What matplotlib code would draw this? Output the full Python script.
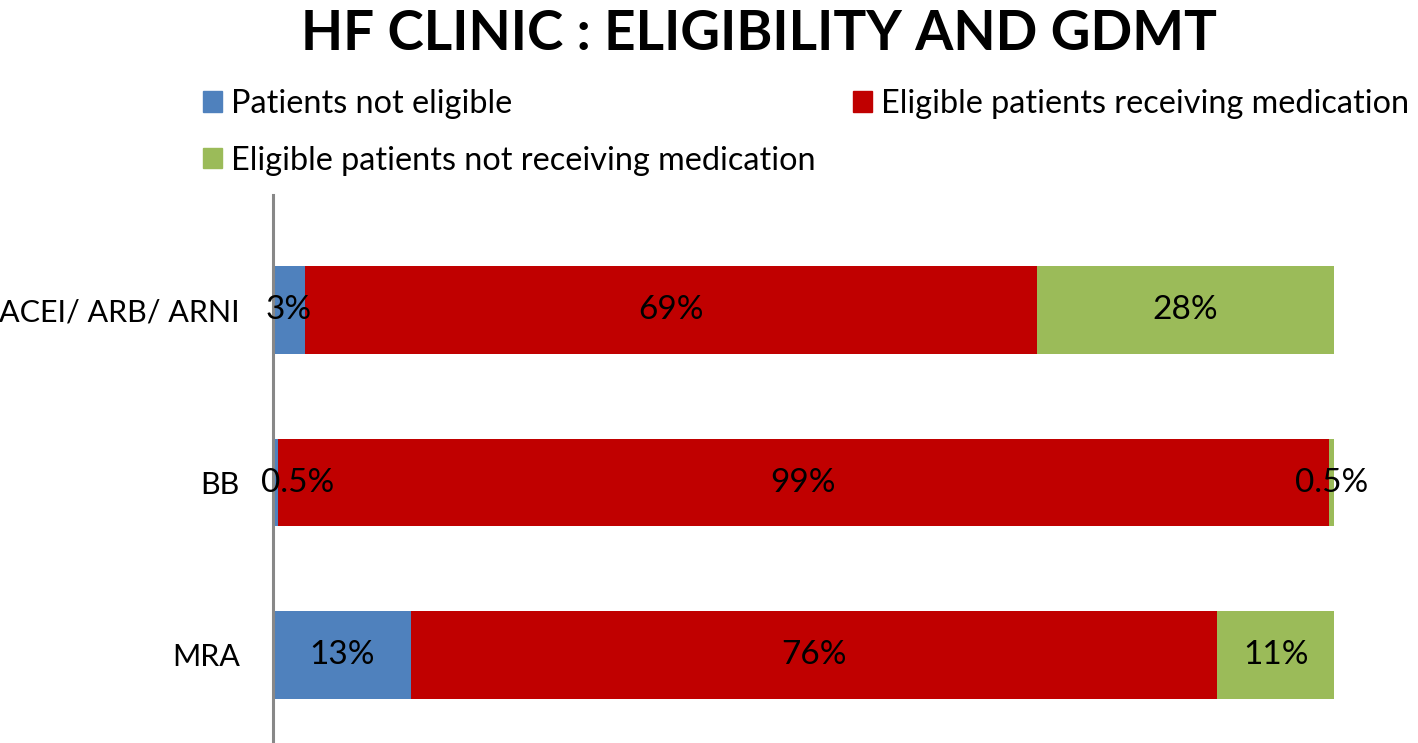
import numpy as np
import matplotlib.pyplot as plt
from matplotlib.patches import Patch

plt.rcParams['font.family'] = ['Lato', 'DejaVu Sans']

categories = ['ACEI/ ARB/ ARNI', 'BB', 'MRA']
not_eligible = [3, 0.5, 13]
receiving = [69, 99, 76]
not_receiving = [28, 0.5, 11]
labels_not_eligible = ['3%', '0.5%', '13%']
labels_receiving = ['69%', '99%', '76%']
labels_not_receiving = ['28%', '0.5%', '11%']

series = [
    ('Patients not eligible', not_eligible, labels_not_eligible, '#4F81BD'),
    ('Eligible patients receiving medication', receiving, labels_receiving, '#C00000'),
    ('Eligible patients not receiving medication', not_receiving, labels_not_receiving, '#9BBB59'),
]

fig = plt.figure(figsize=(14.18, 7.43), dpi=100)
ax = fig.add_axes([273 / 1418, 0, (1334 - 273) / 1418, 1 - 195 / 743])

y = np.arange(len(categories))
left = np.zeros(len(categories))
for name, vals, labs, col in series:
    vals = np.array(vals, dtype=float)
    ax.barh(y, vals, left=left, height=0.51, color=col, label=name)
    for i, (v, l) in enumerate(zip(vals, labs)):
        cx = left[i] + v / 2
        if v < 2 and name == 'Patients not eligible':
            cx += 2.1  # label sits a bit right of the thin segment
        ax.text(cx, y[i], l, ha='center', va='center', fontsize=24, color='black')
    left += vals

ax.set_xlim(0, 100)
ax.set_ylim(2 + 88 / 172.5, -115 / 172.5)
ax.set_yticks(y)
ax.set_yticklabels(categories, fontsize=22)
ax.tick_params(axis='y', length=0, pad=24)
ax.set_xticks([])
for s in ['top', 'right', 'bottom']:
    ax.spines[s].set_visible(False)
ax.spines['left'].set_color('#888888')
ax.spines['left'].set_linewidth(2.2)

fig.text(759 / 1418, 1 - 50 / 743, 'HF CLINIC : ELIGIBILITY AND GDMT',
         ha='center', va='baseline', fontsize=39.5, fontweight='bold')

handles = [Patch(color=c, label=n) for n, _, _, c in series]
# column-major fill: col 1 gets blue and green, col 2 gets red
order = [handles[0], handles[2], handles[1]]
fig.legend(handles=order, loc='upper left', bbox_to_anchor=(203 / 1418, 1 - 89 / 743),
           ncol=2, frameon=False, fontsize=23.3, handlelength=0.6, handleheight=0.6,
           handletextpad=0.27, columnspacing=1.15, labelspacing=0.82,
           borderpad=0, borderaxespad=0)

fig.savefig('out.png', dpi=100)
